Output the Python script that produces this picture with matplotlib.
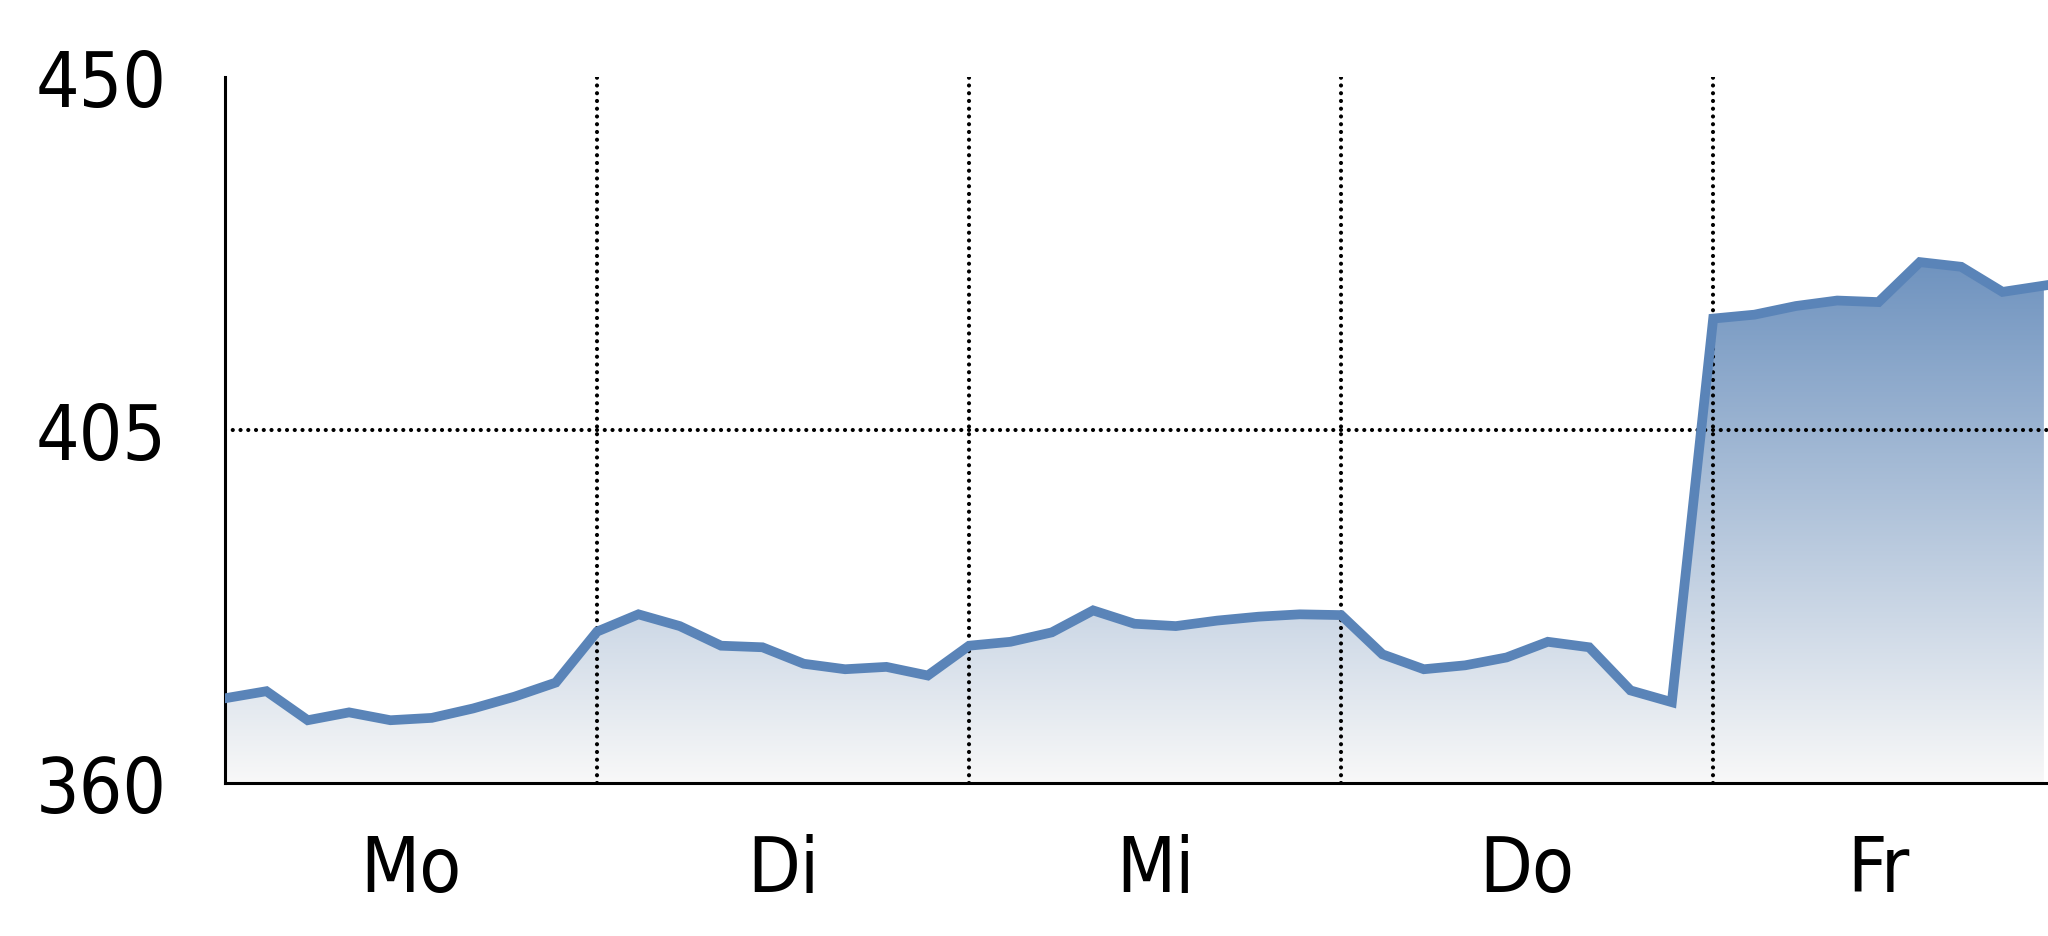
import matplotlib
matplotlib.use('Agg')
import matplotlib.pyplot as plt
from matplotlib import font_manager as fm
import numpy as np
from matplotlib.colors import LinearSegmentedColormap
from matplotlib.patches import Polygon

# wochentage und werte (9 schritte pro tag, freitag 8)
days = ['Mo', 'Di', 'Mi', 'Do', 'Fr']
day_centers = [4.5, 13.5, 22.5, 31.5, 40]
day_bounds = [9, 18, 27, 36]
values = [370.8, 371.7, 368.0, 369.0, 368.0, 368.3, 369.5, 371.0, 372.8,
          379.3, 381.5, 380.0, 377.5, 377.3, 375.2, 374.5, 374.8, 373.7,
          377.5, 378.0, 379.2, 382.0, 380.3, 380.0, 380.7, 381.2, 381.5,
          381.4, 376.4, 374.5, 375.0, 376.0, 378.0, 377.3, 371.8, 370.3,
          419.2, 419.7, 420.8, 421.5, 421.3, 426.4, 425.8, 422.6, 423.4]
yticks = [360, 405, 450]

# schmale schrift suchen, sonst normal
fp = None
for f in fm.fontManager.ttflist:
    if 'Narrow' in f.name or 'Condensed' in f.name or \
       (f.name in ('DejaVu Sans', 'Liberation Sans') and f.stretch in ('condensed', 'semi-condensed')):
        if f.weight in ('normal', 'regular', 400) and f.style == 'normal':
            fp = fm.FontProperties(fname=f.fname, size=55)
            break
if fp is None:
    fp = fm.FontProperties(family=['Liberation Sans', 'DejaVu Sans'], size=55)

x = np.arange(len(values))
y = np.array(values)

fig = plt.figure(figsize=(20.48, 9.37), dpi=100)
ax = fig.add_axes([0.1099, 0.1633, 0.8901, 0.7535])
ax.set_xlim(0, 44.1)
ax.set_ylim(360, 450)

# verlauf unter der linie
cmap = LinearSegmentedColormap.from_list('blau', ['#f8f8f8', '#6f93bf'])
grad = np.linspace(0, 1, 256).reshape(-1, 1)
img = ax.imshow(grad, cmap=cmap, origin='lower', aspect='auto',
                extent=[0, x[-1], 360, y.max()], zorder=1)
poly = Polygon(np.column_stack([np.r_[x, x[-1], 0], np.r_[y, 360, 360]]),
               closed=True, facecolor='none', edgecolor='none')
ax.add_patch(poly)
img.set_clip_path(poly)

# gepunktete gitterlinien
dots = dict(color='black', lw=3, linestyle=(0, (0.01, 1.85)),
            dash_capstyle='round', zorder=2)
for b in day_bounds:
    ax.axvline(b, **dots)
ax.axhline(405, **dots)

ax.plot(x, y, color='#5a84b8', lw=7, solid_joinstyle='miter', zorder=3)

for s in ['top', 'right']:
    ax.spines[s].set_visible(False)
ax.spines['left'].set_linewidth(2.2)
ax.spines['bottom'].set_linewidth(2.2)

ax.set_yticks(yticks)
ax.set_yticklabels([str(v) for v in yticks], fontproperties=fp)
ax.set_xticks(day_centers)
ax.set_xticklabels(days, fontproperties=fp)
ax.tick_params(axis='both', length=0)
ax.tick_params(axis='y', pad=42)
ax.tick_params(axis='x', pad=36)

fig.savefig('out.png', dpi=100)
